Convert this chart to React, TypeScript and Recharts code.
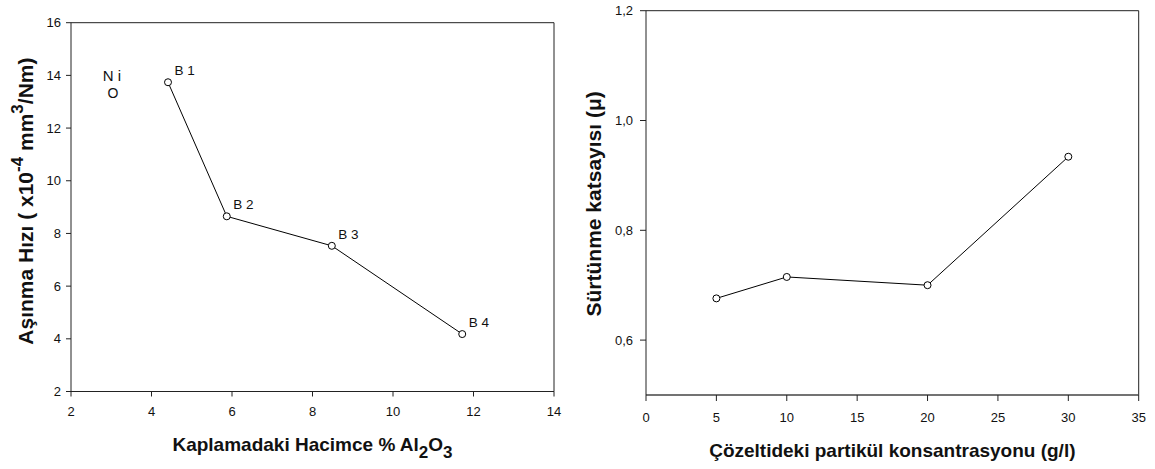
import React from 'react';
import {
  LineChart,
  Line,
  XAxis,
  YAxis,
  ReferenceLine,
  ReferenceDot,
  Label,
  LabelList,
} from 'recharts';

// ---------- Left chart data (wear rate vs Al2O3 volume %) ----------
const wearX = [4.41, 5.87, 8.48, 11.72];
const wearY = [13.74, 8.65, 7.53, 4.18];
const wearLabels = ['B 1', 'B 2', 'B 3', 'B 4'];
const wearXTicks = [2, 4, 6, 8, 10, 12, 14];
const wearYTicks = [2, 4, 6, 8, 10, 12, 14, 16];
const niX = 3.04;
const niY = 13.33;
const niText = 'N i';
const niMarker = 'O';

// ---------- Right chart data (friction coefficient vs concentration) ----------
const concX = [5, 10, 20, 30];
const frictionY = [0.676, 0.715, 0.7, 0.934];
const concXTicks = [0, 5, 10, 15, 20, 25, 30, 35];
const frictionYTicks = [0.6, 0.8, 1.0, 1.2];

const wearData = wearX.map((x, i) => ({ x, y: wearY[i], label: wearLabels[i] }));
const frictionData = concX.map((x, i) => ({ x, y: frictionY[i] }));

const FONT = '"Liberation Sans", Arial, Helvetica, sans-serif';
const AXIS = '#222';
const TICK_FS = 13;

const fmtComma = (v: number) => v.toFixed(1).replace('.', ',');

const XTick = (props: any) => {
  const { x, y, payload } = props;
  return (
    <text x={x} y={y} dy="0.71em" textAnchor="middle" fontSize={TICK_FS} fontFamily={FONT} fill="#111">
      {String(payload.value)}
    </text>
  );
};

const YTick = (props: any) => {
  const { x, y, payload } = props;
  return (
    <text x={x} y={y} dy="0.355em" textAnchor="end" fontSize={TICK_FS} fontFamily={FONT} fill="#111">
      {String(payload.value)}
    </text>
  );
};

const YTickComma = (props: any) => {
  const { x, y, payload } = props;
  return (
    <text x={x} y={y} dy="0.355em" textAnchor="end" fontSize={TICK_FS} fontFamily={FONT} fill="#111">
      {fmtComma(Number(payload.value))}
    </text>
  );
};

const PointLabel = (props: any) => {
  const { x, y, value } = props;
  return (
    <text x={x + 6.5} y={y - 7} fontSize={13.5} fontFamily={FONT} fill="#111">
      {value}
    </text>
  );
};

const NiShape = (props: any) => {
  const { cx, cy } = props;
  return (
    <g>
      <text x={cx - 1} y={cy - 12} textAnchor="middle" fontSize={15} fontFamily={FONT} fill="#111">
        {niText}
      </text>
      <text x={cx} y={cy + 5} textAnchor="middle" fontSize={14} fontFamily={FONT} fill="#111">
        {niMarker}
      </text>
    </g>
  );
};

const LeftYLabel = (props: any) => {
  const vb = props.viewBox || { x: 0, y: 0, width: 0, height: 0 };
  const cy = vb.y + vb.height / 2 - 6;
  const bx = 33;
  return (
    <text
      transform={`translate(${bx},${cy}) rotate(-90)`}
      textAnchor="middle"
      fontSize={21}
      fontWeight="bold"
      fontFamily={FONT}
      fill="#111"
    >
      Aşınma Hızı ( x10
      <tspan dy={-10} fontSize={17}>-4</tspan>
      <tspan dy={10}> mm</tspan>
      <tspan dy={-10} fontSize={17}>3</tspan>
      <tspan dy={10}>/Nm)</tspan>
    </text>
  );
};

const LeftXLabel = (props: any) => {
  const vb = props.viewBox || { x: 0, y: 0, width: 0, height: 0 };
  const cx = vb.x + vb.width / 2;
  const by = vb.y + 59.5;
  return (
    <text x={cx} y={by} textAnchor="middle" fontSize={19} fontWeight="bold" fontFamily={FONT} fill="#111">
      Kaplamadaki Hacimce % Al
      <tspan dy={7} fontSize={17}>2</tspan>
      <tspan dy={-7}>O</tspan>
      <tspan dy={7} fontSize={17}>3</tspan>
    </text>
  );
};

const RightYLabel = (props: any) => {
  const vb = props.viewBox || { x: 0, y: 0, width: 0, height: 0 };
  const cy = vb.y + vb.height / 2 + 1;
  const bx = 21;
  return (
    <text
      transform={`translate(${bx},${cy}) rotate(-90)`}
      textAnchor="middle"
      fontSize={21}
      fontWeight="bold"
      fontFamily={FONT}
      fill="#111"
    >
      Sürtünme katsayısı (μ)
    </text>
  );
};

const RightXLabel = (props: any) => {
  const vb = props.viewBox || { x: 0, y: 0, width: 0, height: 0 };
  const cx = vb.x + vb.width / 2;
  const by = vb.y + 62;
  return (
    <text x={cx} y={by} textAnchor="middle" fontSize={19} fontWeight="bold" fontFamily={FONT} fill="#111">
      Çözeltideki partikül konsantrasyonu (g/l)
    </text>
  );
};

export default function App() {
  return (
    <div style={{ position: 'absolute', left: 0, top: 0, width: 1155, height: 469, background: '#fff' }}>
      <div style={{ position: 'absolute', left: 0, top: 0 }}>
        <LineChart
          width={580}
          height={469}
          data={wearData}
          margin={{ top: 22.7, right: 26, bottom: 47.5, left: 0 }}
        >
          <XAxis
            dataKey="x"
            type="number"
            domain={[2, 14]}
            ticks={wearXTicks}
            allowDataOverflow
            height={30}
            tickSize={5}
            tickMargin={10}
            tick={XTick}
            axisLine={{ stroke: AXIS }}
            tickLine={{ stroke: AXIS }}
          >
            <Label content={LeftXLabel} />
          </XAxis>
          <YAxis
            dataKey="y"
            type="number"
            domain={[2, 16]}
            ticks={wearYTicks}
            allowDataOverflow
            width={71}
            tickSize={5}
            tickMargin={5}
            tick={YTick}
            axisLine={{ stroke: AXIS }}
            tickLine={{ stroke: AXIS }}
          >
            <Label content={LeftYLabel} />
          </YAxis>
          <ReferenceLine y={16} stroke={AXIS} />
          <ReferenceLine x={14} stroke={AXIS} />
          <ReferenceDot x={niX} y={niY} r={0} shape={NiShape} />
          <Line
            dataKey="y"
            stroke="#000"
            strokeWidth={1}
            isAnimationActive={false}
            dot={{ r: 3.5, fill: '#fff', stroke: '#000', strokeWidth: 1 }}
          >
            <LabelList dataKey="label" content={PointLabel} />
          </Line>
        </LineChart>
      </div>
      <div style={{ position: 'absolute', left: 580, top: 0 }}>
        <LineChart
          width={575}
          height={469}
          data={frictionData}
          margin={{ top: 10.7, right: 16.3, bottom: 44, left: 0 }}
        >
          <XAxis
            dataKey="x"
            type="number"
            domain={[0, 35]}
            ticks={concXTicks}
            allowDataOverflow
            height={30}
            tickSize={6}
            tickMargin={12}
            tick={XTick}
            axisLine={{ stroke: '#444', strokeWidth: 1.5 }}
            tickLine={{ stroke: AXIS }}
          >
            <Label content={RightXLabel} />
          </XAxis>
          <YAxis
            dataKey="y"
            type="number"
            domain={[0.5, 1.2]}
            ticks={frictionYTicks}
            allowDataOverflow
            width={66}
            tickSize={6}
            tickMargin={7}
            tick={YTickComma}
            axisLine={{ stroke: AXIS }}
            tickLine={{ stroke: AXIS }}
          >
            <Label content={RightYLabel} />
          </YAxis>
          <ReferenceLine y={1.2} stroke={AXIS} />
          <ReferenceLine x={35} stroke={AXIS} />
          <Line
            dataKey="y"
            stroke="#000"
            strokeWidth={1}
            isAnimationActive={false}
            dot={{ r: 3.5, fill: '#fff', stroke: '#000', strokeWidth: 1 }}
          />
        </LineChart>
      </div>
    </div>
  );
}
